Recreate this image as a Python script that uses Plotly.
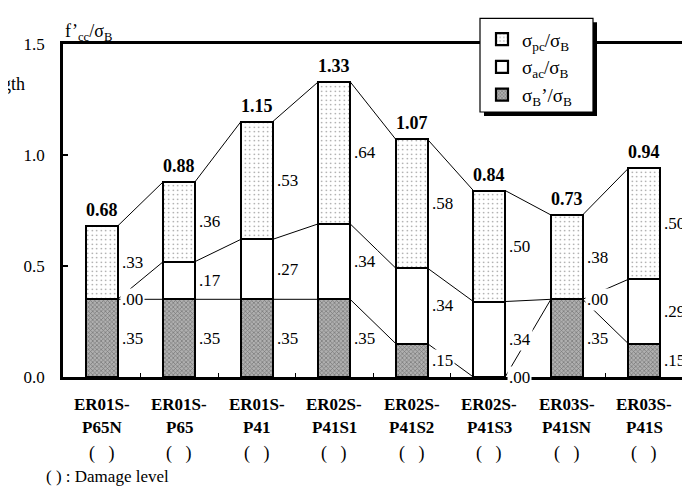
import plotly.graph_objects as go

categories_top = ["ER01S-", "ER01S-", "ER01S-", "ER02S-", "ER02S-", "ER02S-", "ER03S-", "ER03S-"]
categories_bottom = ["P65N", "P65", "P41", "P41S1", "P41S2", "P41S3", "P41SN", "P41S"]
sigma_b_prime = [0.35, 0.35, 0.35, 0.35, 0.15, 0.00, 0.35, 0.15]
sigma_ac = [0.00, 0.17, 0.27, 0.34, 0.34, 0.34, 0.00, 0.29]
sigma_pc = [0.33, 0.36, 0.53, 0.64, 0.58, 0.50, 0.38, 0.50]
y_ticks = [0.0, 0.5, 1.0, 1.5]

FONT = "Liberation Serif"
n = len(categories_bottom)
xs = list(range(n))
BW = 0.41
H = BW / 2

# plot-area geometry in pixels (for paper-coordinate conversion)
W, HGT = 690, 493
ML, MR, MT, MB = 55, 15, 31, 124
PW, PH = W - ML - MR, HGT - MT - MB
def px(xp):
    return (xp - ML) / PW
def py(yp):
    return (HGT - MB - yp) / PH

fig = go.Figure()
fig.add_trace(go.Bar(
    x=xs, y=sigma_b_prime, width=BW, name="σ<sub>B</sub>’/σ<sub>B</sub>",
    marker=dict(color="#9a9a9a", line=dict(color="black", width=2.2),
                pattern=dict(shape="x", size=3, solidity=0.4, fgcolor="#3a3a3a", bgcolor="#b0b0b0")),
))
fig.add_trace(go.Bar(
    x=xs, y=sigma_ac, width=BW, name="σ<sub>ac</sub>/σ<sub>B</sub>",
    marker=dict(color="white", line=dict(color="black", width=2.2)),
))
fig.add_trace(go.Bar(
    x=xs, y=sigma_pc, width=BW, name="σ<sub>pc</sub>/σ<sub>B</sub>",
    marker=dict(color="white", line=dict(color="black", width=2.2),
                pattern=dict(shape=".", size=4.5, solidity=0.08, fgcolor="black", bgcolor="white")),
))

# connecting lines between adjacent bars at each level
lvl1 = sigma_b_prime
lvl2 = [a + b for a, b in zip(sigma_b_prime, sigma_ac)]
lvl3 = [a + b + c for a, b, c in zip(sigma_b_prime, sigma_ac, sigma_pc)]
for lv in (lvl1, lvl2, lvl3):
    lx, ly = [], []
    for i in range(n - 1):
        lx += [i + H, i + 1 - H, None]
        ly += [lv[i], lv[i + 1], None]
    fig.add_trace(go.Scatter(x=lx, y=ly, mode="lines", line=dict(color="black", width=1),
                             showlegend=False, hoverinfo="skip"))

ann = []
def seg_label(v):
    return "." + f"{int(round(v * 100)):02d}"

for i in range(n):
    bases = [0, lvl1[i], lvl2[i]]
    vals = [sigma_b_prime[i], sigma_ac[i], sigma_pc[i]]
    for b, v in zip(bases, vals):
        ann.append(dict(x=i + H, y=b + v / 2, xref="x", yref="y", text=seg_label(v),
                        xanchor="left", yanchor="middle", xshift=2, showarrow=False,
                        bgcolor="white", borderpad=1,
                        font=dict(family=FONT, size=17, color="black")))
    ann.append(dict(x=i, y=lvl3[i], xref="x", yref="y", text=f"<b>{lvl3[i]:.2f}</b>",
                    xanchor="center", yanchor="bottom", yshift=4, showarrow=False,
                    bgcolor="white", borderpad=1,
                    font=dict(family=FONT, size=18, color="black")))
    ann.append(dict(x=i, y=py(397), xref="x", yref="paper", text=f"<b>{categories_top[i]}</b>",
                    xanchor="center", yanchor="middle", showarrow=False,
                    font=dict(family=FONT, size=17, color="black")))
    ann.append(dict(x=i, y=py(420), xref="x", yref="paper", text=f"<b>{categories_bottom[i]}</b>",
                    xanchor="center", yanchor="middle", showarrow=False,
                    font=dict(family=FONT, size=17, color="black")))
    ann.append(dict(x=i, y=py(447), xref="x", yref="paper", text="(   )",
                    xanchor="center", yanchor="middle", showarrow=False,
                    font=dict(family=FONT, size=18, color="black")))

ann.append(dict(x=px(36), y=py(470), xref="paper", yref="paper", text="( ) : Damage level",
                xanchor="left", yanchor="middle", showarrow=False,
                font=dict(family=FONT, size=17, color="black")))
ann.append(dict(x=0.0, y=1.0, xref="paper", yref="paper",
                text="f’<sub>cc</sub>/σ<sub>B</sub>",
                xanchor="left", yanchor="bottom", showarrow=False, yshift=-2,
                font=dict(family=FONT, size=18, color="black")))
ann.append(dict(x=px(19), y=py(72), xref="paper", yref="paper", text="Strength",
                xanchor="right", yanchor="middle", showarrow=False,
                font=dict(family=FONT, size=18, color="black")))

# legend frame with drop shadow
shapes = [
    dict(type="rect", xref="paper", yref="paper", x0=px(476), x1=px(589), y0=py(104), y1=py(9),
         fillcolor="black", line=dict(width=0), layer="above"),
    dict(type="rect", xref="paper", yref="paper", x0=px(472), x1=px(585), y0=py(100), y1=py(5),
         fillcolor="white", line=dict(color="black", width=1.2), layer="above"),
]

fig.update_layout(
    width=W, height=HGT,
    margin=dict(l=ML, r=MR, t=MT, b=MB),
    plot_bgcolor="white", paper_bgcolor="white",
    barmode="stack", bargap=0,
    showlegend=True,
    legend=dict(x=px(474), y=py(7), xanchor="left", yanchor="top",
                bgcolor="rgba(0,0,0,0)", borderwidth=0,
                traceorder="reversed", tracegroupgap=0,
                font=dict(family=FONT, size=19, color="black")),
    xaxis=dict(range=[-0.5, n - 0.5], showgrid=False, zeroline=False,
               tickvals=[i + 0.5 for i in range(n - 1)], ticktext=[""] * (n - 1),
               ticks="inside", ticklen=4, tickwidth=1, tickcolor="black",
               showline=True, linecolor="black", linewidth=2.5, mirror=True),
    yaxis=dict(range=[0, 1.5], showgrid=False, zeroline=False,
               tickvals=y_ticks, ticktext=[f"{v:.1f}" for v in y_ticks],
               ticks="inside", ticklen=5, tickwidth=1.5, tickcolor="black",
               ticklabelstandoff=12,
               tickfont=dict(family=FONT, size=17, color="black"),
               showline=True, linecolor="black", linewidth=2.5, mirror=True),
    annotations=ann,
    shapes=shapes,
    font=dict(family=FONT, color="black"),
)
fig.write_html("out.html")
